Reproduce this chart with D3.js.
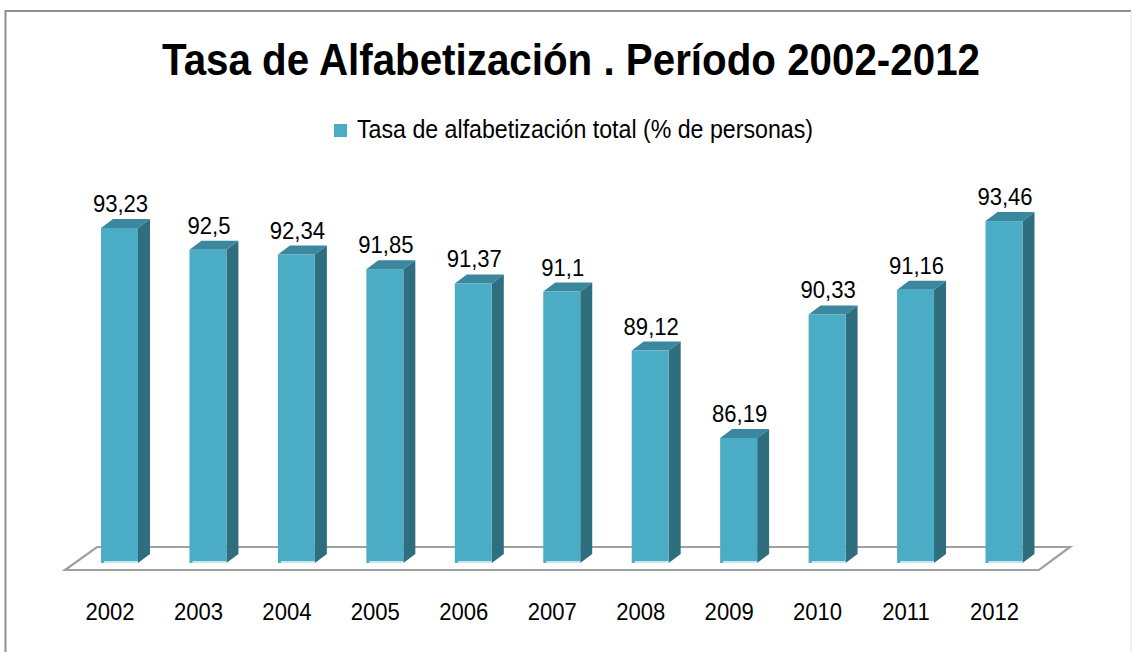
<!DOCTYPE html>
<html>
<head>
<meta charset="utf-8">
<script src="https://cdn.jsdelivr.net/npm/d3@7"></script>
<style>
  html, body { margin: 0; padding: 0; background: #fff; }
  svg { display: block; }
</style>
</head>
<body>
<svg id="chart" width="1132" height="652"></svg>
<script>
const title = "Tasa de Alfabetización . Período 2002-2012";
const seriesName = "Tasa de alfabetización total (% de personas)";
const years = ["2002","2003","2004","2005","2006","2007","2008","2009","2010","2011","2012"];
const values = [93.23, 92.5, 92.34, 91.85, 91.37, 91.1, 89.12, 86.19, 90.33, 91.16, 93.46];
const labels = ["93,23","92,5","92,34","91,85","91,37","91,1","89,12","86,19","90,33","91,16","93,46"];

const svg = d3.select("#chart");
const FONT = "'Liberation Sans', Arial, sans-serif";

// condense text horizontally (reference font is narrower than Liberation Sans)
function condense(sel, factor) {
  sel.each(function() {
    const w = this.getComputedTextLength();
    d3.select(this).attr("textLength", w * factor).attr("lengthAdjust", "spacingAndGlyphs");
  });
}

// chart border
svg.append("path").attr("d", "M5.5,660 L5.5,11 L1131,11")
  .attr("fill", "none").attr("stroke", "#8e8e8e").attr("stroke-width", 2);
svg.append("line").attr("x1", 1131).attr("x2", 1131).attr("y1", 11).attr("y2", 660)
  .attr("stroke", "#e2e2e2").attr("stroke-width", 1);

// title
svg.append("text").attr("x", 571).attr("y", 75)
  .attr("text-anchor", "middle")
  .attr("font-family", "'Liberation Sans Narrow', 'Liberation Sans', Arial, sans-serif")
  .attr("font-weight", "bold").attr("font-size", 44)
  .attr("textLength", 818).attr("lengthAdjust", "spacingAndGlyphs")
  .attr("fill", "#000").text(title);

// legend
const colFront = "#4BACC6", colTop = "#3B889E", colSide = "#2F6E7F";
svg.append("rect").attr("x", 334).attr("y", 124).attr("width", 13).attr("height", 13).attr("fill", colFront);
svg.append("text").attr("x", 357).attr("y", 138)
  .attr("font-family", FONT).attr("font-size", 25)
  .attr("textLength", 456).attr("lengthAdjust", "spacingAndGlyphs")
  .attr("fill", "#000").text(seriesName);

// scales
const x = d3.scalePoint().domain(years).range([119.5, 1004]);
const step = x.step();
const bw = step * 0.418;
const y = d3.scaleLinear().domain([82, 94]).range([563, 205]);
const dx = 12, dy = -9;

// floor
const floorBack = 547, floorFront = 570;
const floor = [[97, floorBack], [1070, floorBack], [1039, floorFront], [65, floorFront]];
svg.append("polygon").attr("points", floor.map(p => p.join(",")).join(" "))
  .attr("fill", "#fff").attr("stroke", "#a0a0a0").attr("stroke-width", 2.2)
  .attr("stroke-linejoin", "miter");

// bars
const g = svg.append("g");
const bars = g.selectAll("g.bar").data(years.map((yr, i) => ({yr, v: values[i], lab: labels[i]})))
  .join("g").attr("class", "bar");

bars.each(function(d) {
  const sel = d3.select(this);
  const x0 = x(d.yr) - bw / 2, x1 = x(d.yr) + bw / 2;
  const yt = y(d.v), yb = y(82);
  sel.append("polygon").attr("fill", colSide)
    .attr("points", [[x1, yt], [x1 + dx, yt + dy], [x1 + dx, yb + dy], [x1, yb]].map(p => p.join(",")).join(" "));
  sel.append("polygon").attr("fill", colTop)
    .attr("points", [[x0, yt], [x0 + dx, yt + dy], [x1 + dx, yt + dy], [x1, yt]].map(p => p.join(",")).join(" "));
  sel.append("rect").attr("x", x0).attr("y", yt).attr("width", bw).attr("height", yb - yt).attr("fill", colFront);
  sel.append("rect").attr("x", x0 + 3).attr("y", yb - 2).attr("width", bw - 3).attr("height", 2).attr("fill", "#c3e6ef");
  sel.append("text").attr("class", "vlab").attr("x", x(d.yr) + 1).attr("y", yt - 16)
    .attr("text-anchor", "middle")
    .attr("font-family", FONT).attr("font-size", 24.5)
    .attr("fill", "#000").text(d.lab);
});
condense(svg.selectAll("text.vlab"), 0.9);

// category axis labels
const axis = d3.axisBottom(x).tickSize(0).tickPadding(0);
const ax = svg.append("g").attr("transform", "translate(-10, 603)").call(axis);
ax.select(".domain").remove();
ax.selectAll("text")
  .attr("font-family", FONT).attr("font-size", 24.5)
  .attr("fill", "#000").attr("dy", "0.71em");
condense(ax.selectAll("text"), 0.9);
</script>
</body>
</html>
